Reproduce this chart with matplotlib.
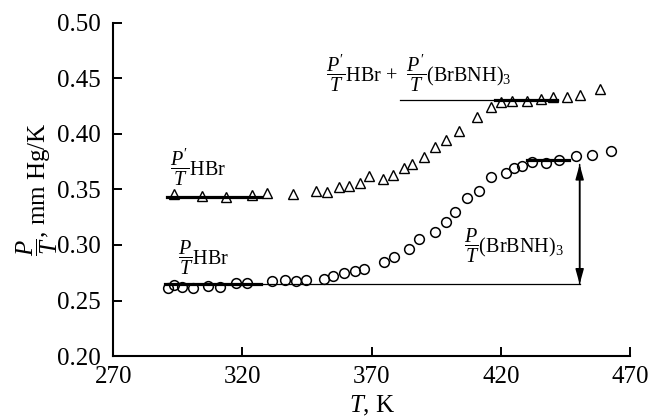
import matplotlib
matplotlib.use("Agg")
import matplotlib.pyplot as plt

plt.rcParams['font.family'] = ['Liberation Serif', 'DejaVu Serif']
plt.rcParams['mathtext.fontset'] = 'custom'
plt.rcParams['mathtext.rm'] = 'Liberation Serif'
plt.rcParams['mathtext.it'] = 'Liberation Serif:italic'
plt.rcParams['mathtext.bf'] = 'Liberation Serif:bold'

# Triangles: P'/T (HBr + (BrBNH)3)
tri_T = [293.3, 304.5, 313.7, 323.6, 329.5, 339.4, 348.6, 352.7, 357.2, 361.4,
         365.3, 369.0, 374.3, 378.3, 382.4, 385.7, 390.2, 394.4, 398.8, 403.9,
         410.9, 416.3, 419.9, 424.4, 430.2, 435.4, 440.3, 445.5, 450.5, 458.3]
tri_v = [0.3455, 0.3443, 0.3434, 0.3450, 0.3470, 0.3458, 0.3488, 0.3480, 0.3524, 0.3530,
         0.3554, 0.3623, 0.3593, 0.3629, 0.3689, 0.3728, 0.3788, 0.3878, 0.3944, 0.4028,
         0.4149, 0.4239, 0.4289, 0.4298, 0.4298, 0.4310, 0.4334, 0.4328, 0.4349, 0.4400]

# Circles: P/T
cir_T = [291.3, 293.5, 296.5, 300.8, 306.8, 311.4, 317.6, 321.9, 331.4, 336.3,
         340.7, 344.4, 351.4, 354.9, 359.4, 363.4, 366.9, 374.7, 378.8, 384.3,
         388.4, 394.4, 398.8, 402.2, 407.0, 411.5, 416.0, 422.1, 425.0, 428.3,
         431.9, 437.3, 442.5, 449.0, 455.4, 462.8]
cir_v = [0.2615, 0.2639, 0.2618, 0.2609, 0.2633, 0.2624, 0.2654, 0.2654, 0.2675, 0.2684,
         0.2675, 0.2684, 0.2693, 0.2720, 0.2750, 0.2768, 0.2780, 0.2843, 0.2894, 0.2963,
         0.3050, 0.3113, 0.3209, 0.3293, 0.3425, 0.3485, 0.3608, 0.3644, 0.3689, 0.3710,
         0.3749, 0.3740, 0.3764, 0.3800, 0.3809, 0.3848]

# plateau levels
tri_low, tri_high = 0.3434, 0.4304
cir_low, cir_high = 0.2648, 0.3764

x_ticks = [270, 320, 370, 420, 470]
y_ticks = [0.20, 0.25, 0.30, 0.35, 0.40, 0.45, 0.50]

fig = plt.figure(figsize=(6.52, 4.19), dpi=100)
ax = fig.add_axes([0.1738, 0.150, 0.7925, 0.796])

ax.plot(tri_T, tri_v, linestyle='none', marker='^', ms=6.5, mfc='none',
        mec='black', mew=1.0)
ax.plot(cir_T, cir_v, linestyle='none', marker='o', ms=7, mfc='none',
        mec='black', mew=1.1)

# plateau lines
ax.plot([290.7, 327.0], [tri_low, tri_low], color='black', lw=2.3)
ax.plot([381.0, 442.0], [tri_high, tri_high], color='black', lw=0.9)
ax.plot([417.9, 441.9], [tri_high, tri_high], color='black', lw=2.3)
ax.plot([290.0, 327.0], [cir_low, cir_low], color='black', lw=2.3)
ax.plot([327.0, 450.5], [cir_low, cir_low], color='black', lw=0.9)
ax.plot([430.2, 446.4], [cir_high, cir_high], color='black', lw=2.3)

ax.annotate('', xy=(450.5, cir_high - 0.004), xytext=(450.5, cir_low),
            arrowprops=dict(arrowstyle='-|>,head_length=0.9,head_width=0.25', lw=1.1,
                            color='black', shrinkA=0, shrinkB=0))
ax.annotate('', xy=(450.5, cir_low), xytext=(450.5, cir_high - 0.004),
            arrowprops=dict(arrowstyle='-|>,head_length=0.9,head_width=0.25', lw=1.1,
                            color='black', shrinkA=0, shrinkB=0))

fs_ann = 14.5
ax.text(292.0, 0.370, r"$\dfrac{P'}{T}\mathrm{HBr}$", fontsize=fs_ann, ha='left', va='center')
ax.text(295.0, 0.288, r"$\dfrac{P}{T}\mathrm{HBr}$", fontsize=fs_ann, ha='left', va='center')
ax.text(405.6, 0.299, r"$\dfrac{P}{T}\mathrm{(BrBNH)_3}$", fontsize=fs_ann, ha='left', va='center')
ax.text(352.5, 0.4547, r"$\dfrac{P'}{T}\mathrm{HBr}$ +  $\dfrac{P'}{T}\mathrm{(BrBNH)_3}$",
        fontsize=fs_ann, ha='left', va='center')

ax.set_xlim(270, 470)
ax.set_ylim(0.20, 0.50)
ax.set_xticks(x_ticks)
ax.set_yticks(y_ticks)
ax.set_yticklabels([f"{v:.2f}" for v in y_ticks])
ax.tick_params(direction='in', length=6.5, width=1.4, labelsize=18)
ax.tick_params(axis='x', pad=7)
ax.tick_params(axis='y', pad=9)
for s in ['top', 'right']:
    ax.spines[s].set_visible(False)
for s in ['left', 'bottom']:
    ax.spines[s].set_linewidth(1.5)

ax.set_xlabel(r"$T$, K", fontsize=18, labelpad=4)
ax.set_ylabel(r"$\dfrac{P}{T}$, mm Hg/K", fontsize=18, labelpad=-2)

fig.savefig("out.png", dpi=100)
